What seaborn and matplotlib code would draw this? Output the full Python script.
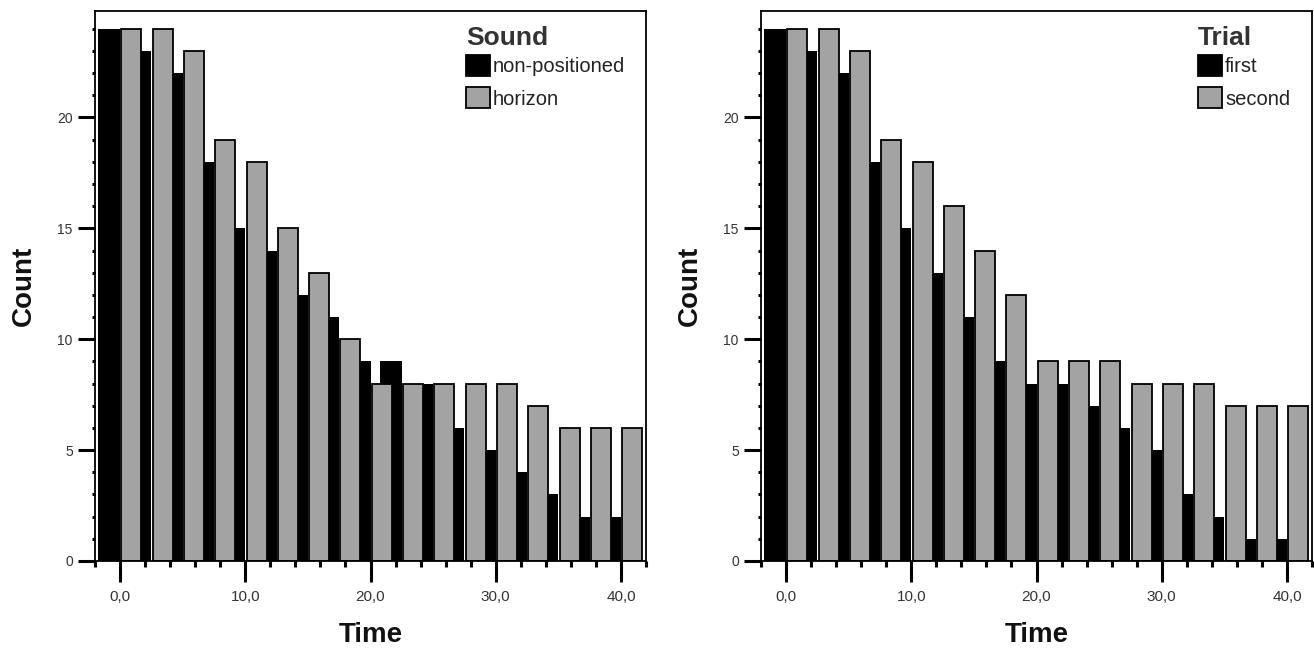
import numpy as np
import pandas as pd
import matplotlib
matplotlib.use("Agg")
import matplotlib.pyplot as plt
from matplotlib.patches import Patch
from matplotlib.ticker import FixedLocator, FixedFormatter, MultipleLocator
import seaborn as sns

# ---------------- data ----------------
time_bins = [0.0, 2.5, 5.0, 7.5, 10.0, 12.5, 15.0, 17.5, 20.0,
             22.5, 25.0, 27.5, 30.0, 32.5, 35.0, 37.5, 40.0]

sound_nonpositioned = [24, 23, 22, 18, 15, 14, 12, 11, 9, 9, 8, 6, 5, 4, 3, 2, 2]
sound_horizon = [24, 24, 23, 19, 18, 15, 13, 10, 8, 8, 8, 8, 8, 7, 6, 6, 6]

trial_first = [24, 23, 22, 18, 15, 13, 11, 9, 8, 8, 7, 6, 5, 3, 2, 1, 1]
trial_second = [24, 24, 23, 19, 18, 16, 14, 12, 9, 9, 9, 8, 8, 8, 7, 7, 7]

xtick_values = [0, 10, 20, 30, 40]
xtick_labels = ["0,0", "10,0", "20,0", "30,0", "40,0"]
ytick_values = [0, 5, 10, 15, 20]
ytick_labels = ["0", "5", "10", "15", "20"]

panels = [
    ("Sound", ["non-positioned", "horizon"], sound_nonpositioned, sound_horizon),
    ("Trial", ["first", "second"], trial_first, trial_second),
]

# ---------------- style ----------------
sns.set_theme(style="ticks")
plt.rcParams["font.family"] = ["Liberation Sans", "DejaVu Sans"]

BLACK = "#000000"
GRAY = "#a3a3a3"

fig = plt.figure(figsize=(13.14, 6.5), dpi=100)
ax_rects = [
    [95 / 1314, 89 / 650, 551 / 1314, 550 / 650],
    [761 / 1314, 89 / 650, 551 / 1314, 550 / 650],
]
legend_anchor_x = [0.673, 0.793]

for (title, names, black_vals, gray_vals), rect, lx in zip(panels, ax_rects, legend_anchor_x):
    ax = fig.add_axes(rect)
    bins = np.array(time_bins)
    df_black = pd.DataFrame({"Time": bins - 0.875, "Count": black_vals})
    df_gray = pd.DataFrame({"Time": bins + 0.9, "Count": gray_vals})

    sns.barplot(data=df_black, x="Time", y="Count", native_scale=True,
                width=0.7, color=BLACK, saturation=1, errorbar=None,
                linewidth=0, ax=ax)
    sns.barplot(data=df_gray, x="Time", y="Count", native_scale=True,
                width=0.64, color=GRAY, saturation=1, errorbar=None,
                edgecolor="black", linewidth=1.3, ax=ax)

    ax.set_xlim(-2.0, 42.0)
    ax.set_ylim(0, 24.8)

    ax.xaxis.set_major_locator(FixedLocator(xtick_values))
    ax.xaxis.set_major_formatter(FixedFormatter(xtick_labels))
    ax.xaxis.set_minor_locator(MultipleLocator(2))
    ax.yaxis.set_major_locator(FixedLocator(ytick_values))
    ax.yaxis.set_major_formatter(FixedFormatter(ytick_labels))
    ax.yaxis.set_minor_locator(MultipleLocator(1))

    ax.tick_params(axis="x", which="major", direction="out", length=15, width=2.2,
                   pad=6, labelsize=11, labelcolor="#333333", color="black",
                   top=False, bottom=True)
    ax.tick_params(axis="x", which="minor", direction="out", length=4.5, width=2.2,
                   color="black", top=False, bottom=True)
    ax.tick_params(axis="y", which="major", direction="out", length=12, width=2.2,
                   pad=4, labelsize=10, labelcolor="#333333", color="black",
                   left=True, right=False)
    ax.tick_params(axis="y", which="minor", direction="out", length=2.5, width=2.2,
                   color="black", left=True, right=False)

    for sp in ax.spines.values():
        sp.set_visible(True)
        sp.set_color("black")
        sp.set_linewidth(1.3)

    ax.set_xlabel("Time", fontsize=20, fontweight="bold", color="#111111")
    ax.set_ylabel("Count", fontsize=20, fontweight="bold", color="#111111")
    ax.xaxis.set_label_coords(0.5, -0.11)
    ax.yaxis.set_label_coords(-0.105, 0.5)

    handles = [Patch(facecolor=BLACK, edgecolor="black", linewidth=1.3, label=names[0]),
               Patch(facecolor=GRAY, edgecolor="black", linewidth=1.3, label=names[1])]
    leg = ax.legend(handles=handles, title=title, loc="upper left",
                    bbox_to_anchor=(lx, 0.972), frameon=False, borderpad=0,
                    borderaxespad=0, fontsize=14.5, handlelength=1.2,
                    handleheight=1.2, handletextpad=0.15, labelspacing=0.55,
                    alignment="left",
                    title_fontproperties={"size": 19, "weight": "bold"})
    # tighter gap between legend title and its entries
    leg._legend_box.sep = 3.5
    leg.get_title().set_color("#333333")
    for t in leg.get_texts():
        t.set_color("#222222")

fig.savefig("out.png", dpi=100)
